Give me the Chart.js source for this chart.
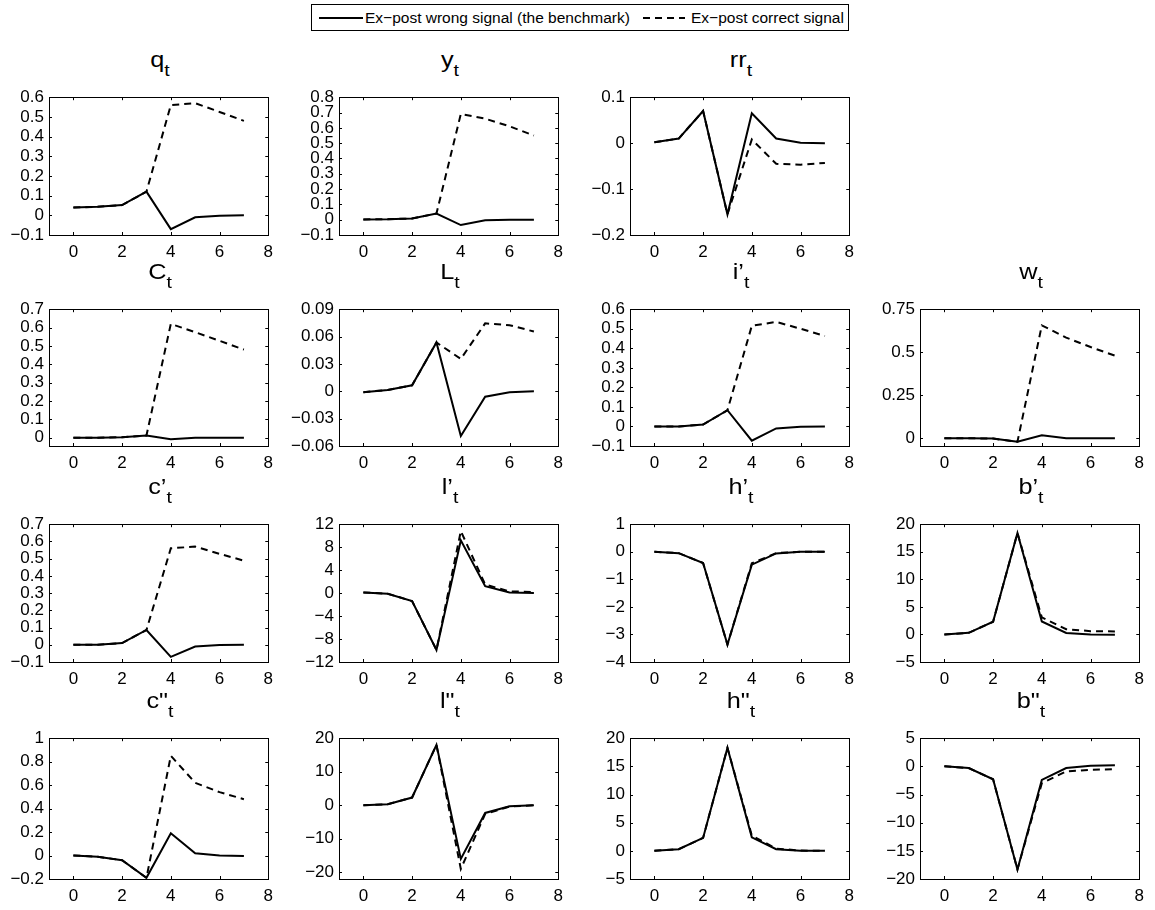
<!DOCTYPE html>
<html>
<head>
<meta charset="utf-8">
<script src="https://cdn.jsdelivr.net/npm/chart.js@4.4.0/dist/chart.umd.min.js"></script>
<style>
  body { margin: 0; background: #fff; width: 1155px; height: 910px; position: relative; overflow: hidden;
         font-family: "Liberation Sans", Arial, sans-serif; color: #000; }
  canvas { position: absolute; }
  .ttl { position: absolute; width: 200px; text-align: center; font-size: 22px; line-height: 24px; white-space: nowrap;
         transform: scaleX(1.15); }
  .ttl sub { font-size: 17px; vertical-align: -9px; line-height: 0; }
  #legend { position: absolute; left: 311px; top: 4px; width: 536px; height: 25px; border: 1px solid #000; font-size: 15.5px; }
  #legend span { position: absolute; top: 4px; white-space: nowrap; }
  #legend svg { position: absolute; top: 0; }
</style>
</head>
<body>
<div id="legend">
  <svg style="left:6px" width="46" height="25"><line x1="1" y1="13" x2="45" y2="13" stroke="#000" stroke-width="2"/></svg>
  <span style="left:53px">Ex−post wrong signal (the benchmark)</span>
  <svg style="left:330px" width="44" height="25"><line x1="1" y1="13" x2="43" y2="13" stroke="#000" stroke-width="2" stroke-dasharray="7,5"/></svg>
  <span style="left:379px">Ex−post correct signal</span>
</div>
<script>
// horizon and x ticks
const steps = [0, 1, 2, 3, 4, 5, 6, 7];
const xTicks = [0, 2, 4, 6, 8];

// series: wrong = benchmark (solid), right = correct signal (dashed)
const qWrong  = [0.04, 0.043, 0.052, 0.12, -0.07, -0.01, -0.002, 0];
const qRight  = [0.04, 0.043, 0.052, 0.12, 0.56, 0.57, 0.525, 0.48];
const yWrong  = [0.002, 0.003, 0.008, 0.04, -0.035, -0.004, 0, 0];
const yRight  = [0.002, 0.003, 0.008, 0.04, 0.69, 0.66, 0.61, 0.55];
const rrWrong = [0.002, 0.01, 0.07, -0.155, 0.065, 0.01, 0.001, 0];
const rrRight = [0.002, 0.01, 0.07, -0.155, 0.008, -0.045, -0.047, -0.043];
const CWrong  = [0, 0, 0.003, 0.012, -0.008, 0, 0, 0];
const CRight  = [0, 0, 0.003, 0.012, 0.62, 0.575, 0.528, 0.48];
const LWrong  = [-0.001, 0.0014, 0.0065, 0.0535, -0.049, -0.006, -0.001, 0];
const LRight  = [-0.001, 0.0014, 0.0065, 0.0535, 0.0355, 0.0745, 0.0725, 0.0655];
const iWrong  = [0, 0, 0.01, 0.083, -0.073, -0.01, -0.002, 0];
const iRight  = [0, 0, 0.01, 0.083, 0.515, 0.535, 0.5, 0.463];
const wWrong  = [0, 0, -0.002, -0.02, 0.018, 0, 0, 0];
const wRight  = [0, 0, -0.002, -0.02, 0.656, 0.585, 0.53, 0.48];
const c1Wrong = [0, 0, 0.01, 0.086, -0.07, -0.01, -0.002, 0];
const c1Right = [0, 0, 0.01, 0.086, 0.56, 0.57, 0.528, 0.488];
const l1Wrong = [0.1, -0.1, -1.4, -9.9, 9.2, 1.2, 0.1, 0];
const l1Right = [0.1, -0.1, -1.4, -9.9, 10.8, 1.5, 0.3, 0.2];
const h1Wrong = [0, -0.05, -0.41, -3.37, -0.47, -0.06, 0, 0];
const h1Right = [0, -0.05, -0.41, -3.37, -0.42, -0.05, 0, 0];
const b1Wrong = [0, 0.3, 2.3, 18.4, 2.35, 0.28, 0, -0.05];
const b1Right = [0, 0.3, 2.3, 18.4, 3.1, 0.95, 0.6, 0.55];
const c2Wrong = [0, -0.01, -0.04, -0.19, 0.19, 0.02, 0, -0.005];
const c2Right = [0, -0.01, -0.04, -0.19, 0.85, 0.62, 0.54, 0.48];
const l2Wrong = [0, 0.3, 2.3, 18, -16, -2.3, -0.3, 0];
const l2Right = [0, 0.3, 2.3, 18, -19, -2.6, -0.4, 0];
const h2Wrong = [0, 0.3, 2.3, 18.3, 2.4, 0.3, 0, 0];
const h2Right = [0, 0.3, 2.3, 18.3, 2.7, 0.4, 0.05, 0];
const b2Wrong = [0, -0.3, -2.3, -18.3, -2.4, -0.3, 0.1, 0.2];
const b2Right = [0, -0.3, -2.3, -18.3, -3.0, -0.9, -0.6, -0.5];

// y tick values per panel
const qTicks  = [-0.1, 0, 0.1, 0.2, 0.3, 0.4, 0.5, 0.6];
const yTicks  = [-0.1, 0, 0.1, 0.2, 0.3, 0.4, 0.5, 0.6, 0.7, 0.8];
const rrTicks = [-0.2, -0.1, 0, 0.1];
const CTicks  = [0, 0.1, 0.2, 0.3, 0.4, 0.5, 0.6, 0.7];
const LTicks  = [-0.06, -0.03, 0, 0.03, 0.06, 0.09];
const iTicks  = [-0.1, 0, 0.1, 0.2, 0.3, 0.4, 0.5, 0.6];
const wTicks  = [0, 0.25, 0.5, 0.75];
const c1Ticks = [-0.1, 0, 0.1, 0.2, 0.3, 0.4, 0.5, 0.6, 0.7];
const l1Ticks = [-12, -8, -4, 0, 4, 8, 12];
const h1Ticks = [-4, -3, -2, -1, 0, 1];
const b1Ticks = [-5, 0, 5, 10, 15, 20];
const c2Ticks = [-0.2, 0, 0.2, 0.4, 0.6, 0.8, 1];
const l2Ticks = [-20, -10, 0, 10, 20];
const h2Ticks = [-5, 0, 5, 10, 15, 20];
const b2Ticks = [-20, -15, -10, -5, 0, 5];

const colLeft = [49, 339, 630, 920];
const rowTop = [92, 304, 519, 733];
const rowH = [143, 142, 143, 146];
const plotW = 221;

const panels = [
  { t: 'q', r: 0, c: 0, a: qWrong, b: qRight, ticks: qTicks, min: -0.1, max: 0.6 },
  { t: 'y', r: 0, c: 1, a: yWrong, b: yRight, ticks: yTicks, min: -0.1, max: 0.8 },
  { t: 'rr', r: 0, c: 2, a: rrWrong, b: rrRight, ticks: rrTicks, min: -0.2, max: 0.1 },
  { t: 'C', r: 1, c: 0, a: CWrong, b: CRight, ticks: CTicks, min: -0.045, max: 0.7 },
  { t: 'L', r: 1, c: 1, a: LWrong, b: LRight, ticks: LTicks, min: -0.06, max: 0.09 },
  { t: 'i’', r: 1, c: 2, a: iWrong, b: iRight, ticks: iTicks, min: -0.1, max: 0.6 },
  { t: 'w', r: 1, c: 3, a: wWrong, b: wRight, ticks: wTicks, min: -0.045, max: 0.75 },
  { t: 'c’', r: 2, c: 0, a: c1Wrong, b: c1Right, ticks: c1Ticks, min: -0.1, max: 0.7 },
  { t: 'l’', r: 2, c: 1, a: l1Wrong, b: l1Right, ticks: l1Ticks, min: -12, max: 12 },
  { t: 'h’', r: 2, c: 2, a: h1Wrong, b: h1Right, ticks: h1Ticks, min: -4, max: 1 },
  { t: 'b’', r: 2, c: 3, a: b1Wrong, b: b1Right, ticks: b1Ticks, min: -5, max: 20 },
  { t: 'c"', r: 3, c: 0, a: c2Wrong, b: c2Right, ticks: c2Ticks, min: -0.2, max: 1 },
  { t: 'l"', r: 3, c: 1, a: l2Wrong, b: l2Right, ticks: l2Ticks, min: -22, max: 20 },
  { t: 'h"', r: 3, c: 2, a: h2Wrong, b: h2Right, ticks: h2Ticks, min: -5, max: 20 },
  { t: 'b"', r: 3, c: 3, a: b2Wrong, b: b2Right, ticks: b2Ticks, min: -20, max: 5 }
];

const YW = 48, XH = 30, PT = 10, PR = 10;
const tickFont = { family: '"Liberation Sans", Arial, sans-serif', size: 17 };

function fmt(v) {
  return String(Number(v.toFixed(3))).replace('-', '\u2212');
}

// box + inward tick marks, MATLAB style
const frame = {
  id: 'frame',
  afterDraw(chart) {
    const { ctx, chartArea: a, scales } = chart;
    ctx.save();
    ctx.strokeStyle = '#000';
    ctx.lineWidth = 1;
    ctx.beginPath();
    scales.x.ticks.forEach(t => {
      const px = Math.round(scales.x.getPixelForValue(t.value)) + 0.5;
      ctx.moveTo(px, a.bottom); ctx.lineTo(px, a.bottom - 3);
      ctx.moveTo(px, a.top); ctx.lineTo(px, a.top + 3);
    });
    scales.y.ticks.forEach(t => {
      const py = Math.round(scales.y.getPixelForValue(t.value)) + 0.5;
      ctx.moveTo(a.left, py); ctx.lineTo(a.left + 3, py);
      ctx.moveTo(a.right, py); ctx.lineTo(a.right - 3, py);
    });
    ctx.stroke();
    ctx.strokeRect(Math.round(a.left) + 0.5, Math.round(a.top) + 0.5,
                   Math.round(a.right - a.left), Math.round(a.bottom - a.top));
    ctx.restore();
  }
};

panels.forEach(p => {
  const left = colLeft[p.c], top = rowTop[p.r], h = rowH[p.r];
  const cv = document.createElement('canvas');
  cv.width = YW + plotW + PR;
  cv.height = PT + h + XH;
  cv.style.left = (left - YW) + 'px';
  cv.style.top = (top - PT) + 'px';
  document.body.appendChild(cv);

  const ttl = document.createElement('div');
  ttl.className = 'ttl';
  ttl.style.left = (left + plotW / 2 - 100) + 'px';
  ttl.style.top = (top - 44) + 'px';
  ttl.innerHTML = p.t + '<sub>t</sub>';
  document.body.appendChild(ttl);

  new Chart(cv.getContext('2d'), {
    type: 'line',
    data: {
      datasets: [
        { data: steps.map((x, i) => ({ x: x, y: p.a[i] })), borderColor: '#000', borderWidth: 2,
          pointRadius: 0, tension: 0, fill: false },
        { data: steps.map((x, i) => ({ x: x, y: p.b[i] })), borderColor: '#000', borderWidth: 2,
          borderDash: [7, 5], pointRadius: 0, tension: 0, fill: false }
      ]
    },
    options: {
      responsive: false,
      animation: false,
      events: [],
      layout: { padding: { top: PT, right: PR, left: 0, bottom: 0 } },
      plugins: { legend: { display: false }, tooltip: { enabled: false } },
      scales: {
        x: {
          type: 'linear', min: -1, max: 8,
          afterBuildTicks: s => { s.ticks = xTicks.map(v => ({ value: v })); },
          afterFit: s => { s.height = XH; },
          grid: { display: false, drawTicks: false },
          border: { display: false },
          ticks: { font: tickFont, color: '#000', padding: 7, maxRotation: 0, autoSkip: false,
                   callback: v => fmt(v) }
        },
        y: {
          type: 'linear', min: p.min, max: p.max,
          afterBuildTicks: s => { s.ticks = p.ticks.map(v => ({ value: v })); },
          afterFit: s => { s.width = YW; },
          grid: { display: false, drawTicks: false },
          border: { display: false },
          ticks: { font: tickFont, color: '#000', padding: 5, autoSkip: false,
                   callback: v => fmt(v) }
        }
      }
    },
    plugins: [frame]
  });
});
</script>
</body>
</html>
